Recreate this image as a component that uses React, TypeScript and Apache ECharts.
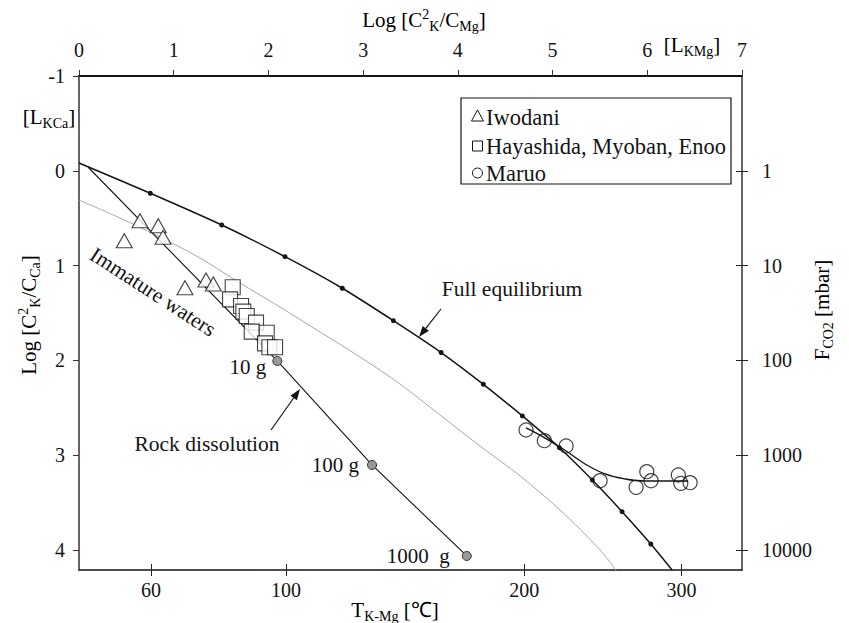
import React, { useEffect, useRef } from 'react';
import * as echarts from 'echarts';

const FONT = 'Liberation Serif, Times New Roman, serif';
const INK = '#141414';

// ---- axes ----
const topTicks = [0, 1, 2, 3, 4, 5, 6, 7];
const leftTicks = [-1, 0, 1, 2, 3, 4];
const rightTicks = [0, 1, 2, 3, 4];
const rightTickLabels = ['1', '10', '100', '1000', '10000'];
const tempTickLabels = ['60', '100', '200', '300'];
const tempTickPos = [0.76, 2.186, 4.70, 6.36];

// ---- Full equilibrium curve (dots every 20 °C, 60..280) ----
const fullEqX = [0, 0.753, 1.507, 2.175, 2.78, 3.319, 3.823, 4.269, 4.681, 5.072, 5.42, 5.734, 6.037, 6.262];
const fullEqY = [-0.082, 0.237, 0.572, 0.906, 1.239, 1.581, 1.917, 2.252, 2.586, 2.921, 3.262, 3.596, 3.937, 4.211];

// ---- Rock dissolution line ----
const rockX = [0.095, 2.094, 3.094, 4.094];
const rockY = [-0.04, 2.006, 3.103, 4.063];
const rockLabels = ['', '10 g', '100 g', '1000  g'];

// ---- grey curve ----
const greyX = [0, 0.433, 0.855, 1.278, 1.7, 2.122, 2.545, 2.967, 3.39, 3.812, 4.234, 4.657, 5.079, 5.502, 5.723];
const greyY = [0.308, 0.498, 0.698, 0.92, 1.184, 1.437, 1.7, 1.964, 2.249, 2.576, 2.903, 3.219, 3.578, 4.0, 4.285];

// ---- Iwodani (triangles) ----
const iwodaniX = [0.644, 0.837, 0.887, 0.478, 1.119, 1.341, 1.418];
const iwodaniY = [0.526, 0.579, 0.702, 0.737, 1.233, 1.152, 1.194];

// ---- Hayashida, Myoban, Enoo (squares) ----
const hayashidaX = [1.623, 1.595, 1.711, 1.735, 1.771, 1.869, 1.824, 1.982, 1.964, 2.01, 2.07];
const hayashidaY = [1.229, 1.356, 1.426, 1.486, 1.532, 1.602, 1.697, 1.708, 1.82, 1.862, 1.862];

// ---- Maruo (circles) ----
const maruoX = [4.72, 4.913, 5.143, 5.502, 5.882, 5.995, 6.04, 6.328, 6.354, 6.452];
const maruoY = [2.734, 2.847, 2.903, 3.269, 3.339, 3.174, 3.269, 3.209, 3.297, 3.29];

// ---- Maruo trend curve ----
const maruoFitX = [4.72, 4.921, 5.143, 5.343, 5.554, 5.766, 5.977, 6.188, 6.431];
const maruoFitY = [2.713, 2.819, 2.956, 3.093, 3.198, 3.251, 3.272, 3.272, 3.272];

const zip = (xs: number[], ys: number[]) => xs.map((x, i) => [x, ys[i]]);

function arrow(x1: number, y1: number, x2: number, y2: number) {
  const dx = x2 - x1, dy = y2 - y1, len = Math.hypot(dx, dy);
  const ux = dx / len, uy = dy / len;
  const hl = 11, hw = 4;
  const bx = x2 - ux * hl, by = y2 - uy * hl;
  return [
    { type: 'line', shape: { x1, y1, x2: bx, y2: by }, style: { stroke: INK, lineWidth: 1.2 } },
    {
      type: 'polygon',
      shape: { points: [[x2, y2], [bx - uy * hw, by + ux * hw], [bx + uy * hw, by - ux * hw]] },
      style: { fill: INK },
    },
  ];
}

const richBase = {
  a: { fontSize: 21, fontFamily: FONT, color: INK, lineHeight: 26 },
  sup: { fontSize: 14, fontFamily: FONT, color: INK, lineHeight: 12, verticalAlign: 'top' },
  sub: { fontSize: 14, fontFamily: FONT, color: INK, lineHeight: 12, verticalAlign: 'bottom' },
};

function richText(x: number, y: number, text: string, rotation = 0) {
  return {
    type: 'text',
    x,
    y,
    rotation,
    style: { text, rich: richBase, align: 'center', verticalAlign: 'middle', fontSize: 21, fontFamily: FONT },
  };
}

function plainText(x: number, y: number, text: string, size = 21.5, rotation = 0, align = 'center') {
  return {
    type: 'text',
    x,
    y,
    rotation,
    style: { text, fontSize: size, fontFamily: FONT, fill: INK, align, verticalAlign: 'middle' },
  };
}

export default function App() {
  const ref = useRef<HTMLDivElement>(null);

  useEffect(() => {
    if (!ref.current) return;
    const chart = echarts.init(ref.current, undefined, { renderer: 'svg' });

    const labelStyle = { fontSize: 20, fontFamily: FONT, color: INK };
    const findTemp = (v: number) => {
      const i = tempTickPos.findIndex((p) => Math.abs(p - v) < 1e-6);
      return i >= 0 ? tempTickLabels[i] : '';
    };
    const findRight = (v: number) => {
      const i = rightTicks.findIndex((p) => Math.abs(p - v) < 1e-6);
      return i >= 0 ? rightTickLabels[i] : '';
    };

    const legendX = 461, legendY = 98;

    const option: any = {
      animation: false,
      backgroundColor: '#ffffff',
      textStyle: { fontFamily: FONT },
      grid: { left: 79, right: 107, top: 76, bottom: 53, containLabel: false },
      xAxis: [
        {
          type: 'value', position: 'top', min: 0, max: 7,
          axisLine: { show: true, onZero: false, lineStyle: { color: INK, width: 2 } },
          axisTick: { show: true, inside: false, length: 6, customValues: topTicks, lineStyle: { color: '#333', width: 1 } },
          axisLabel: { customValues: topTicks, margin: 16, ...labelStyle, formatter: (v: number) => String(v) },
          splitLine: { show: false },
        },
        {
          type: 'value', position: 'bottom', min: 0, max: 7,
          axisLine: { show: true, onZero: false, lineStyle: { color: INK, width: 1.5 } },
          axisTick: { show: true, inside: false, length: 6, customValues: tempTickPos, lineStyle: { color: '#222', width: 1 } },
          axisLabel: { customValues: tempTickPos, margin: 10, ...labelStyle, formatter: findTemp },
          splitLine: { show: false },
        },
        {
          type: 'value', position: 'bottom', min: 0, max: 7,
          axisLine: { show: false, onZero: false },
          axisTick: { show: true, inside: true, length: 6, customValues: tempTickPos, lineStyle: { color: '#222', width: 1 } },
          axisLabel: { show: false },
          splitLine: { show: false },
        },
      ],
      yAxis: [
        {
          type: 'value', position: 'left', min: -1, max: 4.211, inverse: true,
          axisLine: { show: true, onZero: false, lineStyle: { color: '#333', width: 1.5 } },
          axisTick: { show: true, inside: false, length: 6, customValues: leftTicks, lineStyle: { color: '#333', width: 1 } },
          axisLabel: { customValues: leftTicks, margin: 14, ...labelStyle, formatter: (v: number) => String(v) },
          splitLine: { show: false },
        },
        {
          type: 'value', position: 'right', min: -1, max: 4.211, inverse: true,
          axisLine: { show: true, onZero: false, lineStyle: { color: '#333', width: 1.5 } },
          axisTick: { show: true, inside: false, length: 6, customValues: rightTicks, lineStyle: { color: '#222', width: 1 } },
          axisLabel: { customValues: rightTicks, margin: 20, ...labelStyle, formatter: findRight },
          splitLine: { show: false },
        },
        {
          type: 'value', position: 'right', min: -1, max: 4.211, inverse: true,
          axisLine: { show: false, onZero: false },
          axisTick: { show: true, inside: true, length: 6, customValues: rightTicks, lineStyle: { color: '#222', width: 1 } },
          axisLabel: { show: false },
          splitLine: { show: false },
        },
      ],
      series: [
        {
          name: 'grey', type: 'line', smooth: 0.3, showSymbol: false, symbol: 'none',
          data: zip(greyX, greyY), lineStyle: { color: '#a8a8a8', width: 1 }, z: 1,
        },
        {
          name: 'Full equilibrium', type: 'line', smooth: 0.2,
          data: fullEqX.map((x, i) => ({
            value: [x, fullEqY[i]],
            symbol: i === 0 || i === fullEqX.length - 1 ? 'none' : 'circle',
          })),
          symbolSize: 5, itemStyle: { color: INK, borderWidth: 0 },
          lineStyle: { color: INK, width: 1.5 }, z: 2,
        },
        {
          name: 'Rock dissolution', type: 'line',
          data: rockX.map((x, i) => ({
            value: [x, rockY[i]],
            symbol: i === 0 ? 'none' : 'circle',
            label: {
              show: i > 0,
              formatter: rockLabels[i],
              position: 'left',
              distance: i === 1 ? 6 : i === 2 ? 8 : 12,
              offset: i === 1 ? [0, 6] : [0, 0],
              fontSize: 21, fontFamily: FONT, color: INK,
            },
          })),
          symbolSize: 9, itemStyle: { color: '#9a9a9a', borderColor: '#333', borderWidth: 1 },
          lineStyle: { color: INK, width: 1.1 }, z: 2,
        },
        {
          name: 'Maruo trend', type: 'line', smooth: 0.4, symbol: 'none',
          data: zip(maruoFitX, maruoFitY), lineStyle: { color: INK, width: 1.4 }, z: 2,
        },
        {
          name: 'Iwodani', type: 'scatter', symbol: 'triangle', symbolSize: [16, 14],
          data: zip(iwodaniX, iwodaniY),
          itemStyle: { color: '#ffffff', borderColor: INK, borderWidth: 1.1 }, z: 3,
        },
        {
          name: 'Hayashida, Myoban, Enoo', type: 'scatter', symbol: 'rect', symbolSize: 15,
          data: zip(hayashidaX, hayashidaY),
          itemStyle: { color: '#ffffff', borderColor: INK, borderWidth: 1.1 }, z: 3,
        },
        {
          name: 'Maruo', type: 'scatter', symbol: 'circle', symbolSize: 14,
          data: zip(maruoX, maruoY),
          itemStyle: { color: 'transparent', borderColor: INK, borderWidth: 1.2 }, z: 3,
        },
      ],
      graphic: [
        // axis titles
        richText(424, 20, '{a|Log [C}{sup|2}{sub|K}{a|/C}{sub|Mg}{a|]}'),
        richText(692, 45, '{a|[L}{sub|KMg}{a|]}'),
        richText(49, 117, '{a|[L}{sub|KCa}{a|]}'),
        richText(29, 315, '{a|Log [C}{sup|2}{sub|K}{a|/C}{sub|Ca}{a|]}', Math.PI / 2),
        richText(822, 310, '{a|F}{sub|CO2}{a| [mbar]}', Math.PI / 2),
        richText(395, 610, '{a|T}{sub|K-Mg}{a| [℃]}'),
        // annotations
        plainText(512, 289, 'Full equilibrium'),
        plainText(207, 444, 'Rock dissolution'),
        plainText(153, 292, 'Immature waters', 21.5, -0.575),
        ...arrow(441, 309, 419, 337),
        ...arrow(271, 430, 300, 389),
        // legend
        {
          type: 'rect', shape: { x: legendX, y: legendY, width: 270, height: 86 },
          style: { fill: '#fff', stroke: INK, lineWidth: 1.2 }, z: 10,
        },
        {
          type: 'polygon', z: 11,
          shape: { points: [[477.5, 110], [471.5, 121], [483.5, 121]] },
          style: { fill: 'none', stroke: INK, lineWidth: 1 },
        },
        plainText(486, 117, 'Iwodani', 22.5, 0, 'left'),
        {
          type: 'rect', z: 11, shape: { x: 472.5, y: 141, width: 10, height: 10 },
          style: { fill: 'none', stroke: INK, lineWidth: 1 },
        },
        plainText(486, 146, 'Hayashida, Myoban, Enoo', 22.5, 0, 'left'),
        {
          type: 'circle', z: 11, shape: { cx: 477.5, cy: 173, r: 5 },
          style: { fill: 'none', stroke: INK, lineWidth: 1 },
        },
        plainText(486, 173, 'Maruo', 22.5, 0, 'left'),
      ].map((g: any) => (g.z ? g : { ...g, z: 10 })),
    };

    chart.setOption(option);
    return () => chart.dispose();
  }, []);

  return (
    <div
      ref={ref}
      style={{ position: 'fixed', left: 0, top: 0, width: 849, height: 623, background: '#fff' }}
    />
  );
}
